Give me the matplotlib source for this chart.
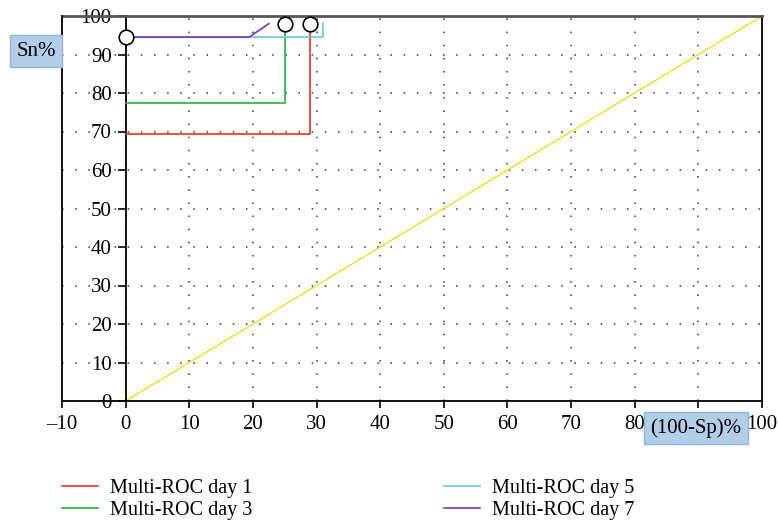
import matplotlib
matplotlib.use("Agg")
import matplotlib.pyplot as plt
from matplotlib.lines import Line2D

plt.rcParams['font.family'] = ['Liberation Serif', 'DejaVu Serif']

# Data
day1_x = [0, 29, 29]
day1_y = [69.4, 69.4, 97.8]
day3_x = [0, 25, 25]
day3_y = [77.4, 77.4, 97.9]
day5_x = [0, 31, 31]
day5_y = [94.5, 94.5, 98.3]
day7_x = [0, 19.4, 22.5]
day7_y = [94.5, 94.5, 98.0]
ref_x = [0, 100]
ref_y = [0, 100]
opt_x = [0, 25, 29]
opt_y = [94.5, 97.9, 97.8]

labels = ["Multi-ROC day 1", "Multi-ROC day 3", "Multi-ROC day 5", "Multi-ROC day 7"]
colors = ["#e8321e", "#1fb53a", "#6ec1e4", "#7a35b5"]
xticks = list(range(-10, 101, 10))
yticks = list(range(0, 101, 10))
# the "90" x tick label is hidden behind the axis-title box in the reference
xticklabels = ["\u201310", "0", "10", "20", "30", "40", "50", "60", "70", "80", "", "100"]

fig = plt.figure(figsize=(7.78, 5.22), dpi=100)
ax = fig.add_axes([62/778, 1-401/522, 700/778, 385/522])
ax.set_xlim(-10, 100)
ax.set_ylim(0, 100)

ax.grid(True, color="#333333", linestyle=(0, (1, 7.6)), linewidth=1.1)
ax.set_axisbelow(True)

ax.plot(ref_x, ref_y, color="#f5dc1e", lw=1.0, zorder=2)
ax.plot(day1_x, day1_y, color=colors[0], lw=1.2, zorder=3)
ax.plot(day3_x, day3_y, color=colors[1], lw=1.2, zorder=3)
ax.plot(day5_x, day5_y, color=colors[2], lw=1.2, zorder=3)
ax.plot(day7_x, day7_y, color=colors[3], lw=1.2, zorder=3)
ax.plot(opt_x, opt_y, linestyle="none", marker="o", markersize=10.5,
        markerfacecolor="white", markeredgecolor="black", markeredgewidth=1.2,
        zorder=5, clip_on=False)

ax.spines['left'].set_position(('data', 0))
ax.spines['left'].set_linewidth(1.3)
ax.spines['bottom'].set_linewidth(1.3)
ax.spines['right'].set_linewidth(1.3)
ax.spines['top'].set_color("#555555")
ax.spines['top'].set_linewidth(2.0)
ax.axvline(-10, color="black", lw=1.3, zorder=6, clip_on=False)

ax.set_xticks(xticks)
ax.set_yticks(yticks)
ax.set_xticklabels(xticklabels)
ax.tick_params(axis='x', direction='out', length=5, width=1.2, labelsize=15, pad=5)
ax.tick_params(axis='y', direction='out', length=6, width=1.2, labelsize=15, pad=4)

box = dict(boxstyle="square,pad=0.3", facecolor="#b3cde9", edgecolor="#8fb4dc", linewidth=1.0)
fig.text(36/778, 1-51/522, "Sn%", ha="center", va="center", fontsize=15, bbox=box)
fig.text(696/778, 1-428/522, "(100-Sp)%", ha="center", va="center", fontsize=15, bbox=box)

handles = [Line2D([], [], color=c, lw=1.2) for c in colors]
fig.legend(handles, labels, ncol=2, loc="upper left", bbox_to_anchor=(62/778, 1-479/522),
           frameon=False, fontsize=14.5, handlelength=1.8, handletextpad=0.6,
           columnspacing=9.5, labelspacing=0.15, borderaxespad=0, borderpad=0)

fig.savefig("out.png", dpi=100)
